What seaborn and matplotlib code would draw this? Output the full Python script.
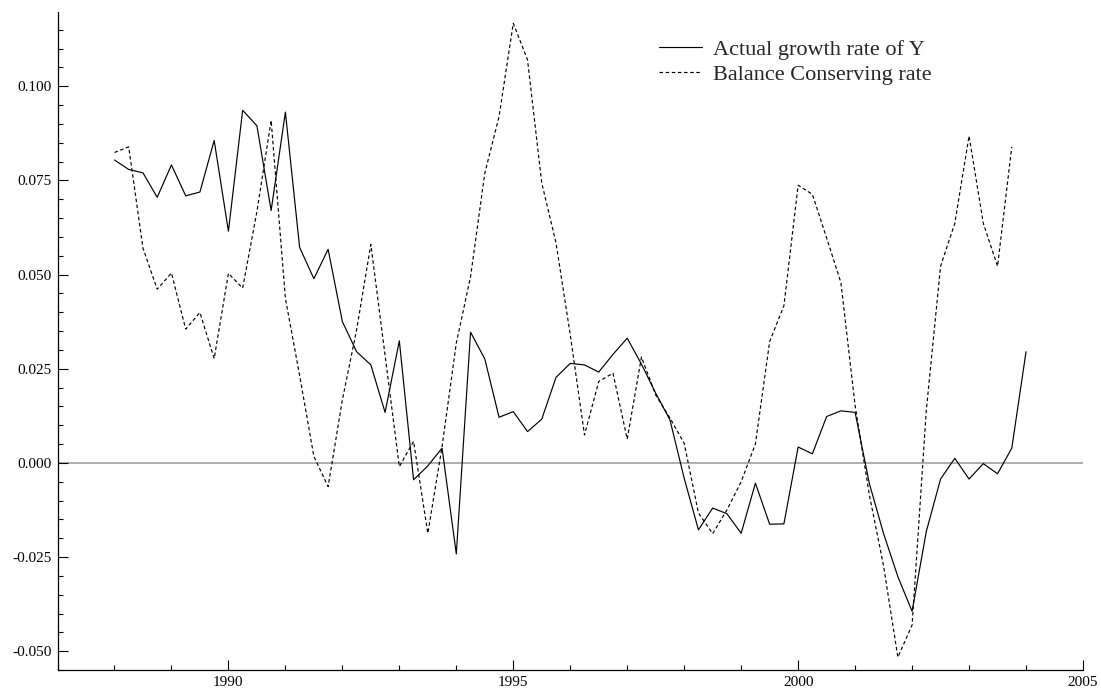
import numpy as np
import pandas as pd
import matplotlib
matplotlib.use("Agg")
import matplotlib.pyplot as plt
from matplotlib.ticker import MultipleLocator, FormatStrFormatter
import seaborn as sns

# Quarterly observations, 1988Q1 onwards
start_year = 1988.0
actual_growth = [
    0.0804, 0.0779, 0.0770, 0.0705,
    0.0791, 0.0709, 0.0719, 0.0856,
    0.0615, 0.0936, 0.0895, 0.0670,
    0.0931, 0.0572, 0.0489, 0.0567,
    0.0375, 0.0295, 0.0260, 0.0134,
    0.0324, -0.0045, -0.0008, 0.0039,
    -0.0242, 0.0347, 0.0276, 0.0121,
    0.0136, 0.0083, 0.0116, 0.0227,
    0.0264, 0.0260, 0.0241, 0.0288,
    0.0331, 0.0262, 0.0185, 0.0114,
    -0.0041, -0.0178, -0.0120, -0.0135,
    -0.0187, -0.0054, -0.0163, -0.0162,
    0.0042, 0.0024, 0.0123, 0.0138,
    0.0134, -0.0055, -0.0188, -0.0302,
    -0.0394, -0.0182, -0.0043, 0.0012,
    -0.0043, -0.0002, -0.0029, 0.0039,
    0.0295,
]
balance_rate = [
    0.0824, 0.0839, 0.0570, 0.0461,
    0.0504, 0.0355, 0.0399, 0.0277,
    0.0503, 0.0464, 0.0667, 0.0909,
    0.0437, 0.0232, 0.0017, -0.0063,
    0.0167, 0.0353, 0.0580, 0.0285,
    -0.0010, 0.0057, -0.0187, 0.0043,
    0.0318, 0.0494, 0.0769, 0.0919,
    0.1167, 0.1070, 0.0743, 0.0584,
    0.0340, 0.0074, 0.0216, 0.0238,
    0.0063, 0.0281, 0.0180, 0.0119,
    0.0052, -0.0133, -0.0188, -0.0125,
    -0.0050, 0.0050, 0.0322, 0.0417,
    0.0737, 0.0713, 0.0597, 0.0479,
    0.0152, -0.0085, -0.0274, -0.0516,
    -0.0431, 0.0140, 0.0522, 0.0636,
    0.0868, 0.0636, 0.0522, 0.0839,
]
series_names = ["Actual growth rate of Y", "Balance Conserving rate"]

years_actual = start_year + 0.25 * np.arange(len(actual_growth))
years_balance = start_year + 0.25 * np.arange(len(balance_rate))

df_actual = pd.DataFrame({"year": years_actual, "rate": actual_growth})
df_balance = pd.DataFrame({"year": years_balance, "rate": balance_rate})

sns.set_style("white")
plt.rcParams["font.family"] = ["Liberation Serif", "DejaVu Serif"]
plt.rcParams["axes.unicode_minus"] = True

fig = plt.figure(figsize=(11.01, 6.89), dpi=100)
ax = fig.add_axes([57.5 / 1101, 1 - 670 / 689, (1083 - 57.5) / 1101, (670 - 12) / 689])

ax.axhline(0, color="#a8a8a8", lw=1.3, zorder=0.5)

sns.lineplot(data=df_actual, x="year", y="rate", ax=ax, color="black",
             lw=0.85, label=series_names[0])
sns.lineplot(data=df_balance, x="year", y="rate", ax=ax, color="black",
             lw=0.85, linestyle=(0, (3, 2.2)), label=series_names[1])

ax.set_xlim(1987, 2005)
ax.set_ylim(-0.055, 0.1197)
ax.set_xlabel("")
ax.set_ylabel("")

ax.xaxis.set_major_locator(MultipleLocator(5))
ax.xaxis.set_minor_locator(MultipleLocator(1))
ax.yaxis.set_major_locator(MultipleLocator(0.025))
ax.yaxis.set_minor_locator(MultipleLocator(0.005))
ax.yaxis.set_major_formatter(FormatStrFormatter("%.3f"))
ax.xaxis.set_major_formatter(FormatStrFormatter("%d"))

for side in ("top", "right"):
    ax.spines[side].set_visible(False)
for side in ("left", "bottom"):
    ax.spines[side].set_color("black")
    ax.spines[side].set_linewidth(0.9)

ax.tick_params(which="major", direction="in", length=7, width=0.8,
               color="black", labelsize=11, pad=4, labelcolor="black")
ax.tick_params(which="minor", direction="in", length=3.6, width=0.8,
               color="black")
ax.tick_params(axis="x", which="both", bottom=True, top=False)
ax.tick_params(axis="y", which="both", left=True, right=False)

leg = ax.legend(loc="upper left", bbox_to_anchor=(0.5865, 0.958),
                frameon=False, fontsize=16, handlelength=1.95,
                handletextpad=0.5, labelspacing=0.18, borderpad=0,
                borderaxespad=0)
for line in leg.get_lines():
    line.set_linewidth(0.85)

fig.savefig("out.png", dpi=100, facecolor="white")
